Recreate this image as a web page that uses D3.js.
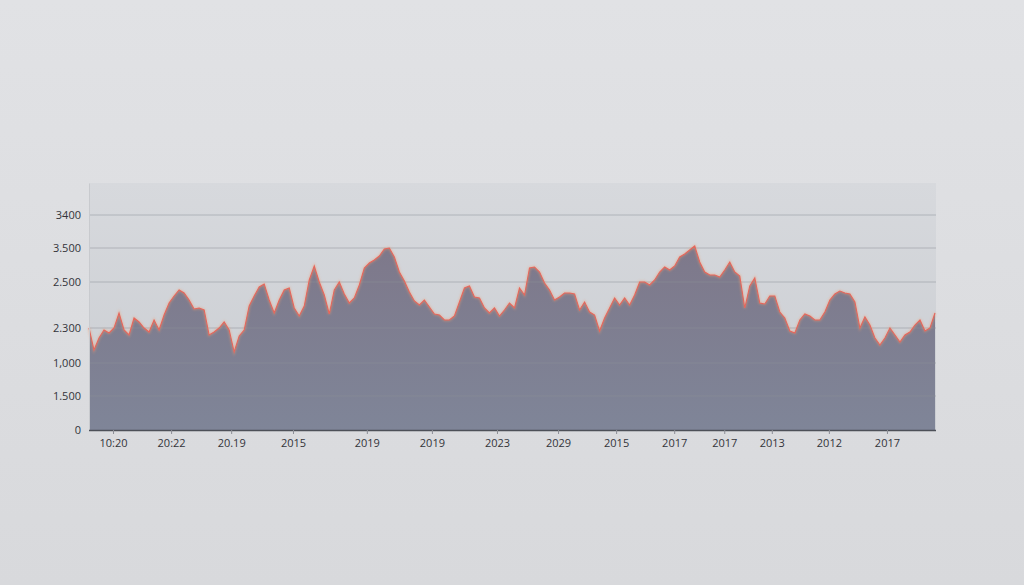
<!DOCTYPE html>
<html><head><meta charset="utf-8">
<script src="https://cdn.jsdelivr.net/npm/d3@7"></script>
<style>html,body{margin:0;padding:0;background:#dddee1;}svg{display:block;}</style>
</head><body><svg id="c" width="1024" height="585"></svg>
<script>
const values = [1530,1200,1380,1500,1455,1530,1755,1500,1425,1680,1620,1530,1470,1650,1500,1725,1905,2010,2100,2055,
1950,1815,1830,1800,1425,1470,1530,1620,1500,1170,1410,1500,1860,2010,2145,2190,1950,1755,1950,2100,
2130,1830,1710,1860,2250,2460,2220,2025,1740,2100,2220,2040,1905,1980,2175,2430,2505,2550,2610,2715,
2730,2595,2370,2235,2070,1935,1875,1950,1845,1740,1725,1650,1650,1710,1920,2130,2160,1995,1980,1830,
1755,1830,1710,1800,1905,1830,2130,2025,2430,2445,2370,2205,2100,1950,1995,2055,2055,2040,1800,1920,
1770,1725,1485,1680,1830,1980,1875,1980,1875,2025,2220,2220,2175,2250,2370,2445,2400,2460,2595,2640,
2700,2760,2520,2370,2325,2325,2295,2400,2520,2370,2310,1830,2160,2280,1905,1890,2010,2010,1770,1680,
1485,1455,1650,1740,1710,1650,1650,1770,1950,2040,2085,2055,2040,1920,1530,1695,1575,1380,1275,1380,
1530,1425,1320,1425,1470,1575,1650,1485,1530,1755];
const yTickValues = [0,510,1005,1530,2220,2730,3225];
const yTickLabels = ["0","1.500","1,000","2.300","2.500","3.500","3400"];
const xTickIndex = [4.8,16.4,28.4,40.75,55.5,68.5,81.5,93.7,105.3,116.9,126.9,136.4,147.8,159.4];
const xTickLabels = ["10:20","20:22","20.19","2015","2019","2019","2023","2029","2015","2017","2017","2013","2012","2017"];

const svg = d3.select("#c");
const W=1024,H=585;
const m={left:89,right:936,top:183,bottom:430};
const defs = svg.append("defs");
const bg = defs.append("linearGradient").attr("id","bg").attr("x1",0).attr("y1",0).attr("x2",0).attr("y2",1);
bg.append("stop").attr("offset","0%").attr("stop-color","#e1e2e5");
bg.append("stop").attr("offset","100%").attr("stop-color","#d8d9dc");
const pg = defs.append("linearGradient").attr("id","pg").attr("x1",0).attr("y1",0).attr("x2",0).attr("y2",1);
pg.append("stop").attr("offset","0%").attr("stop-color","#d7d9dd");
pg.append("stop").attr("offset","100%").attr("stop-color","#cacdd2");
const ag = defs.append("linearGradient").attr("id","ag").attr("gradientUnits","userSpaceOnUse")
  .attr("x1",0).attr("y1",240).attr("x2",0).attr("y2",430);
ag.append("stop").attr("offset","0%").attr("stop-color","#7e788a");
ag.append("stop").attr("offset","100%").attr("stop-color","#7f8598");
const gl = defs.append("filter").attr("id","glow");
gl.append("feGaussianBlur").attr("stdDeviation",0.9);

svg.append("rect").attr("width",W).attr("height",H).attr("fill","url(#bg)");
svg.append("rect").attr("x",m.left).attr("y",m.top).attr("width",m.right-m.left).attr("height",m.bottom-m.top).attr("fill","url(#pg)");

const x = d3.scaleLinear().domain([0,values.length-1]).range([m.left,935]);
const y = d3.scaleLinear().domain([0,3705]).range([m.bottom,m.top]);

const area = d3.area().x((d,i)=>x(i)).y0(y(0)).y1(d=>y(d));
const line = d3.line().x((d,i)=>x(i)).y(d=>y(d));

svg.append("path").datum(values).attr("d",area).attr("fill","url(#ag)");

// gridlines
svg.append("g").selectAll("line").data(yTickValues.slice(1)).join("line")
  .attr("x1",m.left).attr("x2",m.right).attr("y1",d=>y(d)).attr("y2",d=>y(d))
  .attr("stroke","#8d8f99").attr("stroke-opacity",0.5).attr("stroke-width",1);

svg.append("path").datum(values).attr("d",line).attr("fill","none")
  .attr("stroke","#f0986e").attr("stroke-width",2.4).attr("stroke-opacity",0.45).attr("filter","url(#glow)");
svg.append("path").datum(values).attr("d",line).attr("fill","none")
  .attr("stroke","#e5665c").attr("stroke-width",1.1).attr("stroke-linejoin","miter");

// y axis
const yAxis = d3.axisLeft(y).tickValues(yTickValues).tickSize(0).tickPadding(8)
  .tickFormat((d,i)=>yTickLabels[i]);
const ya = svg.append("g").attr("transform",`translate(${m.left},0)`).call(yAxis);
ya.select(".domain").attr("stroke","#c8cace");
ya.selectAll("text").attr("font-family","'Open Sans', sans-serif").attr("font-size",11).attr("fill","#33343a");

// x axis
const xAxis = d3.axisBottom(x).tickValues(xTickIndex).tickSize(4).tickPadding(5)
  .tickFormat((d,i)=>xTickLabels[i]);
const xa = svg.append("g").attr("transform",`translate(0,${m.bottom})`).call(xAxis);
xa.select(".domain").attr("d",`M${m.left},0.5H${m.right}`).attr("stroke","#4d5058").attr("stroke-width",1.5);
xa.selectAll(".tick line").attr("stroke","#8a8c94");
xa.selectAll("text").attr("font-family","'Open Sans', sans-serif").attr("font-size",11).attr("fill","#33343a");
</script></body></html>
